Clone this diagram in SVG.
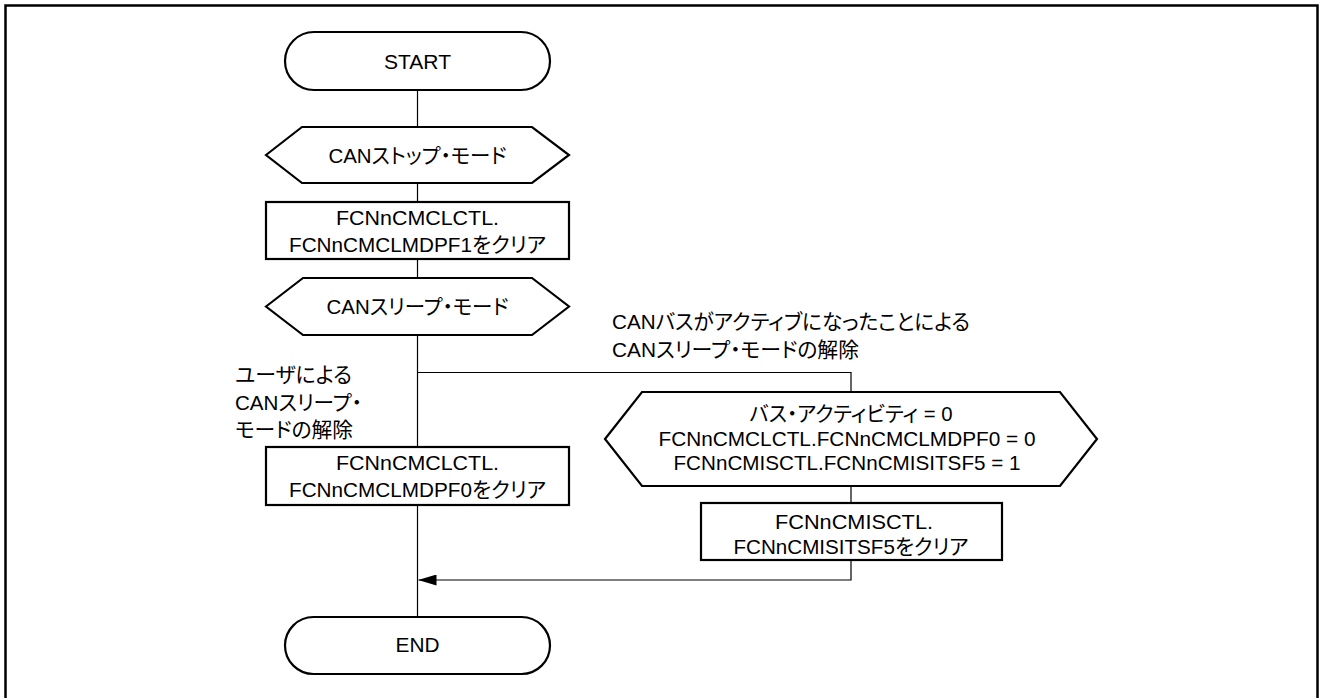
<svg xmlns="http://www.w3.org/2000/svg" width="1322" height="698" viewBox="0 0 1322 698">
<defs>
<style>
.shape{fill:#fff;stroke:#000;stroke-width:2.2}
.conn{fill:none;stroke:#000;stroke-width:1.2}
text{font-family:"Liberation Sans","Noto Sans CJK JP",Arial,sans-serif;font-size:21px;fill:#000;font-feature-settings:"palt" 1}
.c{text-anchor:middle}
</style>
<marker id="arr" viewBox="0 0 18 11" refX="18" refY="5.5" markerWidth="18" markerHeight="11" markerUnits="userSpaceOnUse" orient="auto">
<path d="M0,0 L18,5.5 L0,11 Z" fill="#000"/>
</marker>
</defs>
<rect x="0" y="0" width="1322" height="698" fill="#fff"/>
<rect x="5.5" y="5.5" width="1312" height="700" fill="none" stroke="#000" stroke-width="2.5"/>
<g id="connectors">
<line class="conn" x1="417.5" y1="90" x2="417.5" y2="127"/>
<line class="conn" x1="417.5" y1="183" x2="417.5" y2="202"/>
<line class="conn" x1="417.5" y1="259" x2="417.5" y2="278"/>
<line class="conn" x1="417.5" y1="335" x2="417.5" y2="447"/>
<line class="conn" x1="417.5" y1="505" x2="417.5" y2="617"/>
<polyline class="conn" points="417.5,372.5 851,372.5 851,392"/>
<line class="conn" x1="851" y1="486" x2="851" y2="503"/>
<polyline class="conn" points="851,560 851,580 418.5,580" marker-end="url(#arr)"/>
</g>
<g id="start">
<rect class="shape" x="285" y="32" width="265" height="58" rx="29"/>
<text class="c" x="417.5" y="68.5" textLength="67" lengthAdjust="spacingAndGlyphs">START</text>
</g>
<g id="stop-mode">
<polygon class="shape" points="266,155 302,127 532,127 569,155 532,183 302,183"/>
<text class="c" x="417.5" y="163" textLength="178" lengthAdjust="spacingAndGlyphs">CANストップ・モード</text>
</g>
<g id="clear-mdpf1">
<rect class="shape" x="266" y="202" width="303" height="57"/>
<text class="c" x="417.5" y="225" textLength="163" lengthAdjust="spacingAndGlyphs">FCNnCMCLCTL.</text>
<text class="c" x="417.5" y="251.5" textLength="257" lengthAdjust="spacingAndGlyphs">FCNnCMCLMDPF1をクリア</text>
</g>
<g id="sleep-mode">
<polygon class="shape" points="266,306.5 303,278 532,278 569,306.5 532,335 303,335"/>
<text class="c" x="417.5" y="313.5" textLength="182" lengthAdjust="spacingAndGlyphs">CANスリープ・モード</text>
</g>
<g id="label-bus">
<text x="612" y="328.5" textLength="358" lengthAdjust="spacingAndGlyphs">CANバスがアクティブになったことによる</text>
<text x="612" y="357" textLength="247" lengthAdjust="spacingAndGlyphs">CANスリープ・モードの解除</text>
</g>
<g id="label-user">
<text x="235" y="382" textLength="117" lengthAdjust="spacingAndGlyphs">ユーザによる</text>
<text x="235" y="410" textLength="127" lengthAdjust="spacingAndGlyphs">CANスリープ・</text>
<text x="235" y="437" textLength="118" lengthAdjust="spacingAndGlyphs">モードの解除</text>
</g>
<g id="bus-activity">
<polygon class="shape" points="605,439 642,392 1060,392 1097,439 1060,486 642,486"/>
<text class="c" x="851" y="421" textLength="203" lengthAdjust="spacingAndGlyphs">バス・アクティビティ = 0</text>
<text class="c" x="847" y="446" textLength="377" lengthAdjust="spacingAndGlyphs">FCNnCMCLCTL.FCNnCMCLMDPF0 = 0</text>
<text class="c" x="847" y="470" textLength="347" lengthAdjust="spacingAndGlyphs">FCNnCMISCTL.FCNnCMISITSF5 = 1</text>
</g>
<g id="clear-mdpf0">
<rect class="shape" x="266" y="447" width="303" height="58"/>
<text class="c" x="417.5" y="470" textLength="163" lengthAdjust="spacingAndGlyphs">FCNnCMCLCTL.</text>
<text class="c" x="417.5" y="496.5" textLength="257" lengthAdjust="spacingAndGlyphs">FCNnCMCLMDPF0をクリア</text>
</g>
<g id="clear-itsf5">
<rect class="shape" x="701" y="503" width="301" height="57"/>
<text class="c" x="854" y="529" textLength="158" lengthAdjust="spacingAndGlyphs">FCNnCMISCTL.</text>
<text class="c" x="851" y="554" textLength="235" lengthAdjust="spacingAndGlyphs">FCNnCMISITSF5をクリア</text>
</g>
<g id="end">
<rect class="shape" x="285" y="617" width="265" height="57" rx="28.5"/>
<text class="c" x="417.5" y="652" textLength="44" lengthAdjust="spacingAndGlyphs">END</text>
</g>
</svg>
